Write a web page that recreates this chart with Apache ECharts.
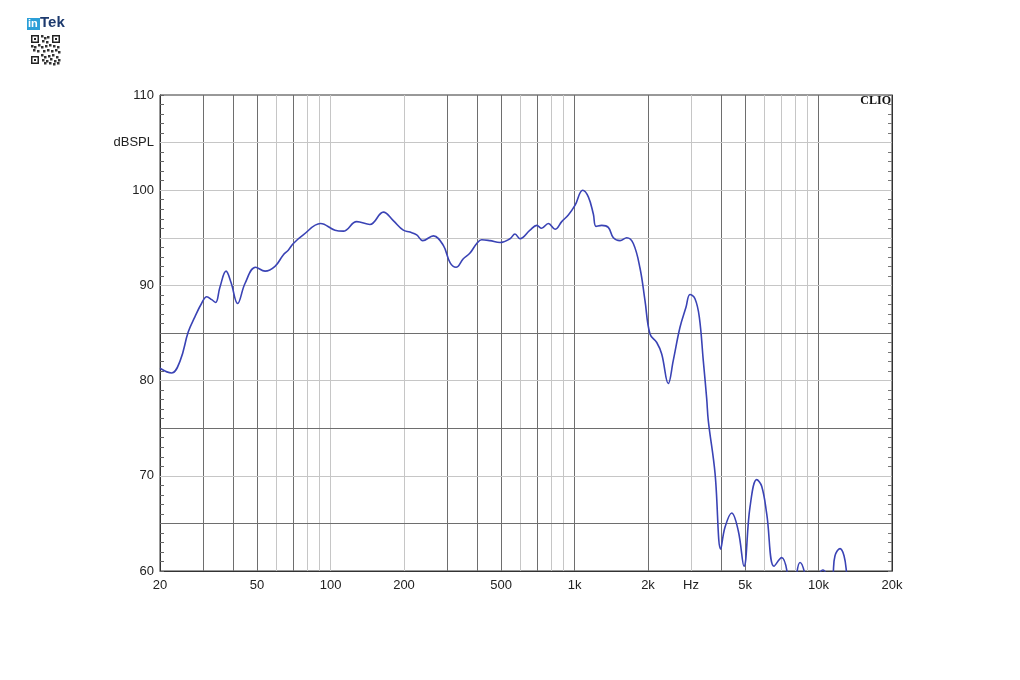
<!DOCTYPE html>
<html>
<head>
<meta charset="utf-8">
<script src="https://cdn.jsdelivr.net/npm/echarts@6/dist/echarts.min.js"></script>
<style>
html,body{margin:0;padding:0;background:#fff;}
#chart{width:1020px;height:680px;}
</style>
</head>
<body>
<div id="chart"></div>
<script>
// ---- data ----
var freqHz = [20, 22.3, 24.2, 26.1, 27.8, 29.6, 31.1, 32.6, 33.8, 35.2, 37.3, 39.1, 41.6, 44.6, 49.3, 53.9, 59.2, 64, 67.1, 70.4, 77.3, 91, 104.3, 112.8, 128, 145, 164.6, 180.8, 198.7, 211.6, 225.5, 238.6, 263.8, 289.9, 308.8, 326.8, 350, 372.9, 397.3, 416.4, 450, 495, 544, 570, 598, 657, 700, 733, 781, 832, 886, 943, 1004, 1080, 1139, 1194, 1225, 1292, 1375, 1442, 1536, 1636, 1741, 1855, 1944, 2038, 2172, 2276, 2422, 2538, 2705, 2862, 2972, 3116, 3245, 3370, 3480, 3533, 3764, 3972, 4136, 4406, 4690, 4948, 5236, 5580, 5848, 6132, 6570, 7064, 7448, 7700, 8000, 8138, 8396, 8798, 9200, 9900, 10138, 10400, 10730, 11000, 11300, 11494, 11680, 12246, 12718, 13042, 13500, 14000];
var splDb = [81.3, 80.8, 82.1, 85.1, 86.7, 88.1, 88.8, 88.5, 88.2, 89.8, 91.5, 90.3, 88.1, 90.2, 91.9, 91.5, 92.0, 93.2, 93.7, 94.4, 95.3, 96.5, 95.8, 95.7, 96.7, 96.4, 97.7, 96.8, 95.8, 95.6, 95.3, 94.7, 95.2, 94.2, 92.4, 91.9, 92.8, 93.4, 94.4, 94.8, 94.7, 94.5, 94.9, 95.4, 94.9, 95.8, 96.3, 96.0, 96.5, 95.9, 96.7, 97.4, 98.4, 100.0, 99.3, 97.5, 96.2, 96.3, 96.1, 95.0, 94.7, 95.0, 94.4, 91.8, 88.4, 84.9, 84.0, 82.8, 79.7, 82.1, 85.6, 87.7, 89.05, 88.6, 86.7, 82.1, 78.1, 75.8, 70.3, 62.3, 64.6, 66.1, 64.2, 60.5, 66.7, 69.6, 68.9, 66.0, 60.5, 61.4, 59.8, 56, 56, 59.6, 60.9, 59.6, 56, 56, 59.7, 60.1, 59.7, 56, 56, 59.8, 61.6, 62.35, 61.6, 59.7, 56, 55];

var xLabelValues = [20, 50, 100, 200, 500, 1000, 2000, 3000, 5000, 10000, 20000];
var xLabelTexts = ['20', '50', '100', '200', '500', '1k', '2k', 'Hz', '5k', '10k', '20k'];
var yLabelValues = [110, 105, 100, 90, 80, 70, 60];
var yLabelTexts = ['110', 'dBSPL', '100', '90', '80', '70', '60'];
var vGridDark = [30, 40, 50, 70, 300, 400, 500, 700, 1000, 2000, 4000, 5000, 10000];
var vGridLight = [60, 80, 90, 100, 200, 600, 800, 900, 3000, 6000, 7000, 8000, 9000];
var hGridDark = [65, 75, 85];
var hGridLight = [70, 80, 90, 95, 100, 105];

var DARK = '#6e6e6e', LIGHT = '#c6c6c6';

function gridLines() {
  var d = [];
  vGridDark.forEach(function (f) { d.push({ xAxis: f, lineStyle: { color: DARK } }); });
  vGridLight.forEach(function (f) { d.push({ xAxis: f, lineStyle: { color: LIGHT } }); });
  hGridDark.forEach(function (v) { d.push({ yAxis: v, lineStyle: { color: DARK } }); });
  hGridLight.forEach(function (v) { d.push({ yAxis: v, lineStyle: { color: LIGHT } }); });
  return d;
}

function xFmt(v) {
  for (var i = 0; i < xLabelValues.length; i++) {
    if (Math.abs(v - xLabelValues[i]) / xLabelValues[i] < 0.01) return xLabelTexts[i];
  }
  return '';
}
function yFmt(v) {
  var i = yLabelValues.indexOf(Math.round(v));
  return i >= 0 ? yLabelTexts[i] : '';
}

var chart = echarts.init(document.getElementById('chart'), null, { renderer: 'canvas' });
var font = '"Liberation Sans", Arial, sans-serif';

// QR-like decorative pattern for the logo
var qr = [];
function sq(x, y, s, fill) { qr.push({ type: 'rect', shape: { x: x, y: y, width: s, height: s }, style: { fill: fill } }); }
function finder(x, y) { sq(x, y, 8, '#222'); sq(x + 1.5, y + 1.5, 5, '#fff'); sq(x + 3, y + 3, 2, '#222'); }
finder(31, 35); finder(52, 35); finder(31, 56);
var dots = [[41,35],[44,37],[47,36],[42,40],[46,41],[31,45],[34,46],[38,44],[41,46],[45,45],[49,44],[53,45],[57,46],[33,49],[37,50],[43,50],[47,49],[51,50],[55,49],[58,51],[41,54],[44,56],[48,55],[52,54],[56,56],[42,59],[46,60],[50,58],[54,60],[58,59],[44,62],[49,62],[53,63],[57,62]];
dots.forEach(function (p) { sq(p[0], p[1], 2.5, '#333'); });

var option = {
  backgroundColor: '#ffffff',
  animation: false,
  grid: { left: 160, right: 128, top: 95, bottom: 109, show: true, borderColor: '#333', borderWidth: 1, backgroundColor: 'transparent' },
  xAxis: {
    type: 'log', logBase: 10, min: 20, max: 20000,
    axisLine: { show: true, lineStyle: { color: '#333', width: 1 } },
    axisTick: { show: false },
    splitLine: { show: false },
    minorTick: { show: false },
    axisLabel: { customValues: xLabelValues, formatter: xFmt, color: '#222', fontSize: 13, fontFamily: font, margin: 8 }
  },
  yAxis: [{
    type: 'value', min: 60, max: 110, interval: 1,
    axisLine: { show: true, lineStyle: { color: '#333', width: 1 } },
    axisTick: { show: true, inside: true, length: 4, interval: 0, lineStyle: { color: '#666' } },
    minorTick: { show: false },
    splitLine: { show: false },
    axisLabel: { interval: 0, color: '#222', fontSize: 13, fontFamily: font, margin: 6, formatter: yFmt }
  }, {
    type: 'value', min: 60, max: 110, interval: 1, position: 'right',
    axisLine: { show: true, lineStyle: { color: '#333', width: 1 } },
    axisTick: { show: true, inside: true, length: 4, interval: 0, lineStyle: { color: '#777' } },
    minorTick: { show: false },
    splitLine: { show: false },
    axisLabel: { show: false }
  }],
  series: [{
    name: 'grid', type: 'line', data: [], z: 1, silent: true,
    markLine: { silent: true, z: 1, symbol: ['none', 'none'], animation: false, label: { show: false }, lineStyle: { type: 'solid', width: 1 }, data: gridLines() }
  }, {
    name: 'SPL', type: 'line', z: 3, clip: true,
    data: freqHz.map(function (f, i) { return [f, splDb[i]]; }),
    showSymbol: false, symbol: 'none', smooth: 0.4,
    lineStyle: { color: '#3a43b5', width: 1.6 }
  }],
  graphic: [
    { type: 'text', right: 129, top: 95, style: { text: 'CLIO', font: 'bold 12px "Liberation Serif", "DejaVu Serif", serif', fill: '#111' } },
    { type: 'rect', shape: { x: 27, y: 18, width: 13, height: 12 }, style: { fill: '#2b9fd8' } },
    { type: 'text', x: 28, y: 18, style: { text: 'in', font: 'bold 11px ' + font, fill: '#fff' } },
    { type: 'text', x: 40, y: 15, style: { text: 'Tek', font: 'bold 15px ' + font, fill: '#1d3a6e' } },
    { type: 'group', children: qr }
  ]
};
chart.setOption(option);
</script>
</body>
</html>
